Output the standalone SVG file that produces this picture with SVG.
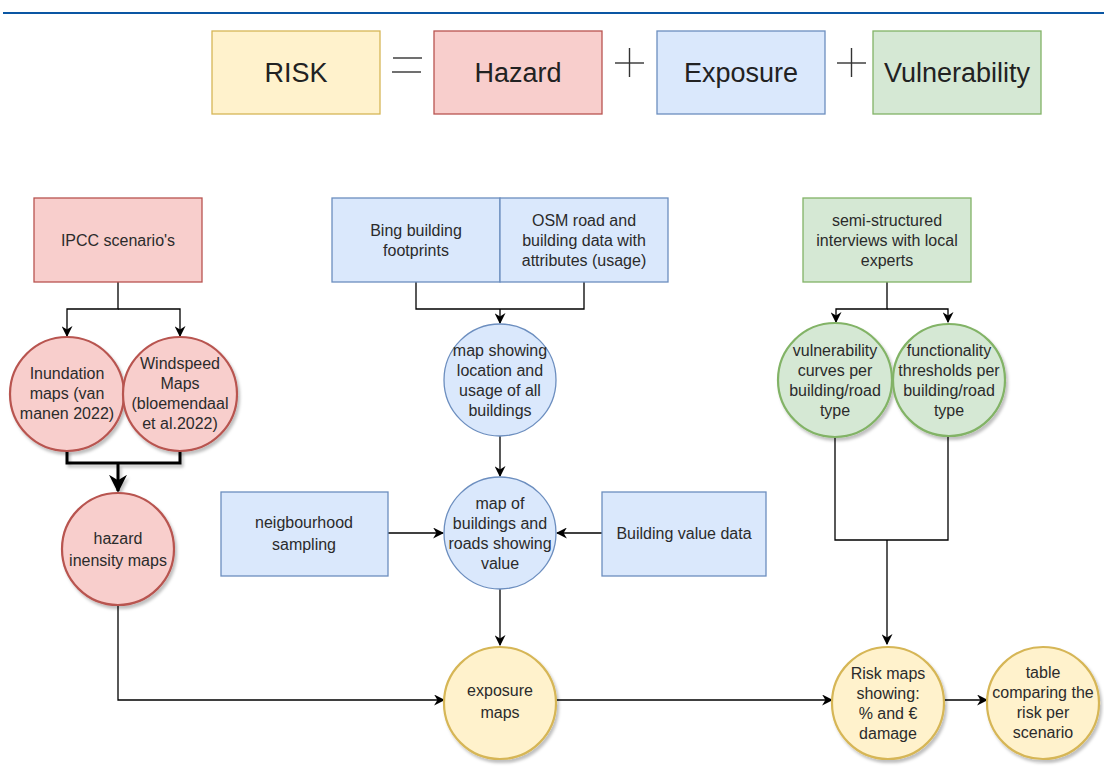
<svg xmlns="http://www.w3.org/2000/svg" width="1104" height="772" viewBox="0 0 1104 772">
<defs>
<filter id="sh" x="-20%" y="-20%" width="150%" height="150%">
<feDropShadow dx="2" dy="3" stdDeviation="1.5" flood-color="#000" flood-opacity="0.25"/>
</filter>
<marker id="ar" viewBox="0 0 10 10" refX="9" refY="5" markerWidth="11" markerHeight="11" markerUnits="userSpaceOnUse" orient="auto">
<path d="M0,0 L10,5 L0,10 L3,5 z" fill="#000"/>
</marker>
<marker id="arb" viewBox="0 0 10 10" refX="9" refY="5" markerWidth="18" markerHeight="18" markerUnits="userSpaceOnUse" orient="auto">
<path d="M0,0 L10,5 L0,10 L3,5 z" fill="#000"/>
</marker>
</defs>
<style>
text{font-family:"Liberation Sans",Arial,sans-serif;font-size:16px;fill:#2b2b2b;text-anchor:middle}
.big{font-size:27px;fill:#222}
.op line{stroke:#333;stroke-width:1.4}
.red{fill:#f8cecc;stroke:#b85450}
.blue{fill:#dae8fc;stroke:#6c8ebf}
.green{fill:#d5e8d4;stroke:#82b366}
.yel{fill:#fff2cc;stroke:#d6b656}
rect{stroke-width:1.3}
circle{stroke-width:2.2}
circle.blue{stroke-width:1.3}
.c path{fill:none;stroke:#000;stroke-width:1.3}
.c path.thick{stroke-width:3}
</style>
<line x1="3" y1="13" x2="1104" y2="13" stroke="#0a56a3" stroke-width="2"/>
<g id="risk"><rect class="yel" x="212" y="31" width="168" height="83"/><text class="big" x="296" y="82">RISK</text></g>
<g id="eq" class="op"><line x1="393" y1="58" x2="422" y2="58"/><line x1="392" y1="72" x2="421" y2="72"/></g>
<g id="hazard"><rect class="red" x="434" y="31" width="168" height="83"/><text class="big" x="518" y="82">Hazard</text></g>
<g id="plus1" class="op"><line x1="615" y1="63" x2="644" y2="63"/><line x1="629.5" y1="48" x2="629.5" y2="77"/></g>
<g id="exposure"><rect class="blue" x="657" y="31" width="168" height="83"/><text class="big" x="741" y="82">Exposure</text></g>
<g id="plus2" class="op"><line x1="837" y1="63" x2="866" y2="63"/><line x1="851.5" y1="48" x2="851.5" y2="77"/></g>
<g id="vulnerability"><rect class="green" x="873" y="31" width="168" height="83"/><text class="big" x="957" y="82">Vulnerability</text></g>

<g class="c" id="connectors">
<path d="M118,282 V309 H67 V336" marker-end="url(#ar)"/>
<path d="M118,309 H180 V336" marker-end="url(#ar)"/>
<path class="thick" d="M67,450 V463 H180 V450 M118,463 V491" marker-end="url(#arb)" filter="url(#sh)"/>
<path d="M118,605 V700 H444" marker-end="url(#ar)"/>
<path d="M416,282 V309 H584 V282"/>
<path d="M500,309 V323" marker-end="url(#ar)"/>
<path d="M500,436 V476" marker-end="url(#ar)"/>
<path d="M388,533 H443" marker-end="url(#ar)"/>
<path d="M602,533 H557" marker-end="url(#ar)"/>
<path d="M500,589 V645" marker-end="url(#ar)"/>
<path d="M555,700 H832" marker-end="url(#ar)"/>
<path d="M943,700 H987" marker-end="url(#ar)"/>
<path d="M887,282 V309 H836 V322" marker-end="url(#ar)"/>
<path d="M887,309 H948 V322" marker-end="url(#ar)"/>
<path d="M835,437 V540 H948 V437"/>
<path d="M887,540 V644" marker-end="url(#ar)"/>
</g>

<g id="ipcc"><rect class="red" x="34" y="198" width="168" height="84"/><text x="118" y="246">IPCC scenario's</text></g>
<g id="inundation"><circle class="red" cx="67" cy="394" r="57" filter="url(#sh)"/>
<text x="67" y="379">Inundation</text><text x="67" y="399">maps (van</text><text x="67" y="419">manen 2022)</text></g>
<g id="windspeed"><circle class="red" cx="180" cy="394" r="57" filter="url(#sh)"/>
<text x="180" y="369">Windspeed</text><text x="180" y="389">Maps</text><text x="180" y="409">(bloemendaal</text><text x="180" y="429">et al.2022)</text></g>
<g id="hazardmaps"><circle class="red" cx="118" cy="549" r="56" filter="url(#sh)"/>
<text x="118" y="544">hazard</text><text x="118" y="566">inensity maps</text></g>

<g id="bing"><rect class="blue" x="332" y="198" width="168" height="84"/><text x="416" y="236">Bing building</text><text x="416" y="256">footprints</text></g>
<g id="osm"><rect class="blue" x="500" y="198" width="168" height="84"/><text x="584" y="226">OSM road and</text><text x="584" y="246">building data with</text><text x="584" y="266">attributes (usage)</text></g>
<g id="location"><circle class="blue" cx="500" cy="380" r="56"/>
<text x="500" y="356">map showing</text><text x="500" y="376">location and</text><text x="500" y="396">usage of all</text><text x="500" y="416">buildings</text></g>
<g id="value"><circle class="blue" cx="500" cy="533" r="56"/>
<text x="500" y="509">map of</text><text x="500" y="529">buildings and</text><text x="500" y="549">roads showing</text><text x="500" y="569">value</text></g>
<g id="neighbourhood"><rect class="blue" x="221" y="492" width="167" height="84"/><text x="304" y="528">neigbourhood</text><text x="304" y="550">sampling</text></g>
<g id="bvd"><rect class="blue" x="602" y="492" width="164" height="84"/><text x="684" y="539">Building value data</text></g>

<g id="interviews"><rect class="green" x="803" y="198" width="168" height="84"/><text x="887" y="226">semi-structured</text><text x="887" y="246">interviews with local</text><text x="887" y="266">experts</text></g>
<g id="vcurves"><circle class="green" cx="835" cy="380" r="57" filter="url(#sh)"/>
<text x="835" y="356">vulnerability</text><text x="835" y="376">curves per</text><text x="835" y="396">building/road</text><text x="835" y="416">type</text></g>
<g id="fthresh"><circle class="green" cx="949" cy="380" r="56" filter="url(#sh)"/>
<text x="949" y="356">functionality</text><text x="949" y="376">thresholds per</text><text x="949" y="396">building/road</text><text x="949" y="416">type</text></g>

<g id="exposuremaps"><circle class="yel" cx="500" cy="703" r="56" filter="url(#sh)"/>
<text x="500" y="696">exposure</text><text x="500" y="718">maps</text></g>
<g id="riskmaps"><circle class="yel" cx="888" cy="703" r="56" filter="url(#sh)"/>
<text x="888" y="679">Risk maps</text><text x="888" y="699">showing:</text><text x="888" y="719">% and €</text><text x="888" y="739">damage</text></g>
<g id="table"><circle class="yel" cx="1043" cy="703" r="56" filter="url(#sh)"/>
<text x="1043" y="678">table</text><text x="1043" y="698">comparing the</text><text x="1043" y="718">risk per</text><text x="1043" y="738">scenario</text></g>
</svg>
